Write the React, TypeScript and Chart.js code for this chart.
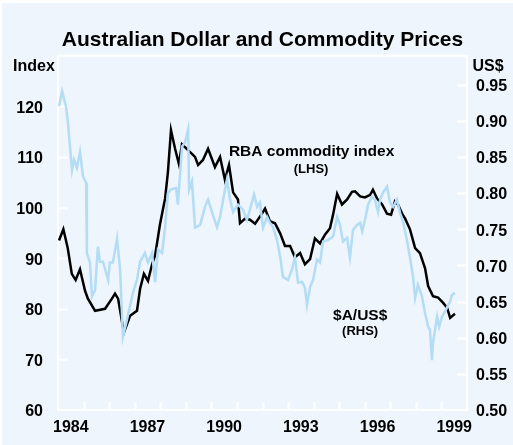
import React, { useEffect, useRef } from "react";
import { Chart, registerables } from "chart.js";
Chart.register(...registerables);

// ---- Data ----
const commodityDates = [
  1984.04, 1984.21, 1984.38, 1984.54, 1984.69, 1984.86,
  1985.06, 1985.17, 1985.45, 1985.84,
  1986.11, 1986.23, 1986.35, 1986.5, 1986.58, 1986.82,
  1987.09, 1987.21, 1987.36, 1987.52, 1987.68, 1987.8, 1987.99,
  1988.19, 1988.3, 1988.42, 1988.58, 1988.73, 1988.85,
  1989.16, 1989.36, 1989.48, 1989.67, 1989.87,
  1990.14, 1990.34, 1990.53, 1990.69, 1990.85,
  1991.04, 1991.12, 1991.32, 1991.51, 1991.71, 1991.98,
  1992.1, 1992.29, 1992.49, 1992.69, 1992.88,
  1993.08, 1993.27, 1993.47, 1993.66, 1993.86,
  1994.05, 1994.25, 1994.45, 1994.64, 1994.76, 1994.92,
  1995.11, 1995.31, 1995.5, 1995.62, 1995.82,
  1996.01, 1996.21, 1996.32, 1996.48, 1996.68, 1996.87,
  1997.03, 1997.18, 1997.3, 1997.46, 1997.58, 1997.77, 1997.97,
  1998.16, 1998.36, 1998.48, 1998.67, 1998.87,
  1999.06, 1999.22, 1999.34, 1999.53,
];
const commodityIndex = [
  93.5, 95.7, 92, 86.9, 85.7, 87.8,
  83.5, 82, 79.6, 80,
  82, 83, 82, 77.6, 75.3, 78.6,
  79.6, 83.9, 86.9, 85.5, 88.8, 90.6, 96.7,
  101.8, 107, 115.3, 111.6, 108.6, 112.5,
  111, 110, 108.4, 109.4, 111.6,
  108, 110, 105.5, 108.4, 103,
  101.6, 96.9, 97.8, 97.6, 96.8, 98.8,
  99.8, 97.3, 96.9, 94.9, 92.4,
  92.4, 90.2, 91, 88.8, 89.8,
  93.9, 92.9, 94.7, 95.9, 98.6, 102.7,
  100.6, 101.6, 103.1, 103.2, 102.2,
  102, 102.5, 103.5, 101.8, 100.6, 98.8,
  98.6, 101.2, 100.6, 98.8, 97.8, 95.7, 92,
  91, 88, 84.5, 82.5, 82.2,
  81.2, 80.2, 78.2, 79,
];

const audDates = [
  1984.04, 1984.16, 1984.31, 1984.39, 1984.55, 1984.63, 1984.74, 1984.86, 1984.98,
  1985.1, 1985.13, 1985.25, 1985.33, 1985.45, 1985.56, 1985.64, 1985.76, 1985.96,
  1986.03, 1986.15, 1986.31, 1986.43, 1986.54, 1986.7, 1986.93,
  1987.09, 1987.21, 1987.4, 1987.52, 1987.68, 1987.8, 1987.91,
  1988.07, 1988.19, 1988.3, 1988.42, 1988.62, 1988.69, 1988.85, 1988.97,
  1989.09, 1989.13, 1989.24, 1989.36, 1989.56, 1989.75, 1989.87,
  1990.03, 1990.22, 1990.34, 1990.46, 1990.61, 1990.73, 1990.85,
  1991.04, 1991.24, 1991.39, 1991.51, 1991.67, 1991.79, 1991.9,
  1992.02, 1992.18, 1992.29, 1992.41, 1992.57, 1992.69, 1992.8,
  1993.0, 1993.15, 1993.27, 1993.39, 1993.55, 1993.66, 1993.74, 1993.86, 1993.98,
  1994.13, 1994.25, 1994.37, 1994.56, 1994.76, 1994.92,
  1995.03, 1995.15, 1995.31, 1995.42, 1995.54, 1995.7, 1995.82, 1995.9,
  1996.01, 1996.13, 1996.28, 1996.4, 1996.52, 1996.6, 1996.72, 1996.87, 1996.99,
  1997.11, 1997.26, 1997.38, 1997.5, 1997.65, 1997.77, 1997.89, 1997.97,
  1998.08, 1998.24, 1998.36, 1998.48, 1998.55, 1998.63, 1998.67, 1998.83, 1998.91,
  1999.02, 1999.14, 1999.26, 1999.34, 1999.41, 1999.53,
];
const audUsd = [
  0.92, 0.941, 0.92, 0.897, 0.832, 0.846, 0.835, 0.857, 0.823,
  0.814, 0.717, 0.704, 0.657, 0.666, 0.726, 0.705, 0.705, 0.68,
  0.704, 0.704, 0.737, 0.694, 0.601, 0.625, 0.662,
  0.68, 0.705, 0.717, 0.704, 0.717, 0.677, 0.722,
  0.717, 0.753, 0.8, 0.805, 0.807, 0.784, 0.864, 0.87,
  0.888, 0.805, 0.816, 0.752, 0.756, 0.781, 0.791,
  0.773, 0.753, 0.767, 0.791, 0.819, 0.791, 0.774,
  0.784, 0.777, 0.763, 0.777, 0.798, 0.781, 0.787,
  0.752, 0.767, 0.759, 0.753, 0.735, 0.712, 0.684,
  0.68, 0.694, 0.711, 0.676, 0.677, 0.669, 0.645, 0.67, 0.68,
  0.708, 0.704, 0.733, 0.735, 0.74, 0.767,
  0.756, 0.733, 0.738, 0.711, 0.749, 0.756, 0.759, 0.747,
  0.763, 0.784, 0.795, 0.791, 0.774, 0.791, 0.801, 0.809, 0.787,
  0.781, 0.791, 0.773, 0.76, 0.735, 0.711, 0.684, 0.655,
  0.673, 0.657, 0.634, 0.615, 0.611, 0.569, 0.593, 0.629, 0.615,
  0.629, 0.636, 0.645, 0.65, 0.659, 0.662,
];

const xLabelYears = [1984, 1987, 1990, 1993, 1996, 1999];
const xTickYears = [1985, 1986, 1987, 1988, 1989, 1990, 1991, 1992, 1993, 1994, 1995, 1996, 1997, 1998, 1999];
const leftTicks = [60, 70, 80, 90, 100, 110, 120];
const rightTicks = [0.5, 0.55, 0.6, 0.65, 0.7, 0.75, 0.8, 0.85, 0.9, 0.95];

const TITLE = "Australian Dollar and Commodity Prices";
const BG = "#EEF5FC";
const BLUE = "#B3DCF5";
const FONT = "'Liberation Sans', Arial, Helvetica, sans-serif";

const decor = {
  id: "decor",
  beforeDraw(chart: any) {
    const ctx = chart.ctx;
    ctx.save();
    ctx.fillStyle = BG;
    ctx.fillRect(0, 0, chart.width, chart.height);
    ctx.restore();
  },
  beforeDatasetsDraw(chart: any) {
    const { ctx, chartArea: a, scales } = chart;
    ctx.save();
    ctx.strokeStyle = "#ffffff";
    ctx.lineWidth = 2;
    ctx.strokeRect(a.left, a.top, a.right - a.left, a.bottom - a.top);
    ctx.beginPath();
    leftTicks.slice(1).forEach((v) => {
      const y = Math.round(scales.y.getPixelForValue(v)) + 0.5;
      ctx.moveTo(a.left, y);
      ctx.lineTo(a.left + 10, y);
    });
    rightTicks.slice(1).forEach((v) => {
      const y = Math.round(scales.y1.getPixelForValue(v)) + 0.5;
      ctx.moveTo(a.right - 10, y);
      ctx.lineTo(a.right, y);
    });
    xTickYears.forEach((yr) => {
      const x = Math.round(scales.x.getPixelForValue(yr)) + 0.5;
      ctx.moveTo(x, a.bottom);
      ctx.lineTo(x, a.bottom - 8);
    });
    ctx.stroke();
    ctx.restore();
  },
  afterDraw(chart: any) {
    const { ctx, chartArea: a, scales } = chart;
    ctx.save();
    ctx.fillStyle = "#000";
    ctx.textAlign = "center";
    ctx.textBaseline = "middle";
    ctx.font = `bold 16px ${FONT}`;
    ctx.fillText("Index", a.left - 24, a.top + 11);
    ctx.fillText("US$", a.right + 21, a.top + 11);
    ctx.font = `bold 15.5px ${FONT}`;
    ctx.fillText("RBA commodity index", scales.x.getPixelForValue(1993.92), scales.y.getPixelForValue(111.1));
    ctx.fillText("$A/US$", scales.x.getPixelForValue(1995.82), scales.y1.getPixelForValue(0.631));
    ctx.font = `bold 13px ${FONT}`;
    ctx.fillText("(LHS)", scales.x.getPixelForValue(1993.9), scales.y.getPixelForValue(107.6));
    ctx.fillText("(RHS)", scales.x.getPixelForValue(1995.82), scales.y1.getPixelForValue(0.609));
    ctx.restore();
  },
};

export default function App() {
  const ref = useRef<HTMLCanvasElement>(null);
  useEffect(() => {
    if (!ref.current) return;
    const tickFont = { family: FONT, size: 16, weight: "bold" as const };
    const chart = new Chart(ref.current, {
      type: "line",
      data: {
        datasets: [
          {
            label: "$A/US$",
            data: audDates.map((x, i) => ({ x, y: audUsd[i] })),
            yAxisID: "y1",
            borderColor: BLUE,
            borderWidth: 2.5,
            pointRadius: 0,
            tension: 0,
            order: 0,
          },
          {
            label: "RBA commodity index",
            data: commodityDates.map((x, i) => ({ x, y: commodityIndex[i] })),
            yAxisID: "y",
            borderColor: "#000000",
            borderWidth: 2.5,
            pointRadius: 0,
            tension: 0,
            order: 1,
          },
        ],
      },
      options: {
        animation: false,
        responsive: false,
        devicePixelRatio: 1,
        layout: { padding: 0 },
        plugins: {
          legend: { display: false },
          tooltip: { enabled: false },
          title: {
            display: true,
            text: TITLE,
            color: "#000",
            fullSize: false,
            font: { family: FONT, size: 21, weight: "bold", lineHeight: 1.2 },
            padding: { top: 25, bottom: 2.5 },
          },
        },
        scales: {
          x: {
            type: "linear",
            min: 1984,
            max: 2000,
            grid: { display: false, drawTicks: false },
            border: { display: false },
            ticks: {
              color: "#000",
              font: tickFont,
              padding: 8,
              maxRotation: 0,
              autoSkip: false,
              callback: (v: any) => String(Math.floor(Number(v))),
            },
            afterBuildTicks: (s: any) => {
              s.ticks = xLabelYears.map((y) => ({ value: y + 0.5 }));
            },
            afterFit: (s: any) => {
              s.height = 35;
            },
          },
          y: {
            type: "linear",
            position: "left",
            min: 60,
            max: 130,
            grid: { display: false, drawTicks: false },
            border: { display: false },
            ticks: {
              color: "#000",
              font: tickFont,
              padding: 15,
              labelOffset: 2,
              callback: (v: any) => String(v),
            },
            afterBuildTicks: (s: any) => {
              s.ticks = leftTicks.map((v) => ({ value: v }));
            },
            afterFit: (s: any) => {
              s.width = 56;
            },
          },
          y1: {
            type: "linear",
            position: "right",
            min: 0.5,
            max: 0.99,
            grid: { display: false, drawTicks: false },
            border: { display: false },
            ticks: {
              color: "#000",
              font: tickFont,
              padding: 9,
              labelOffset: 2,
              callback: (v: any) => Number(v).toFixed(2),
            },
            afterBuildTicks: (s: any) => {
              s.ticks = rightTicks.map((v) => ({ value: v }));
            },
            afterFit: (s: any) => {
              s.width = 46;
            },
          },
        },
      },
      plugins: [decor],
    });
    return () => chart.destroy();
  }, []);

  return (
    <div style={{ position: "fixed", left: 0, top: 0, width: 513, height: 445, background: "#ffffff" }}>
      <canvas
        ref={ref}
        width={511}
        height={442}
        style={{ position: "absolute", left: 2, top: 3, width: 511, height: 442, display: "block" }}
      />
    </div>
  );
}
